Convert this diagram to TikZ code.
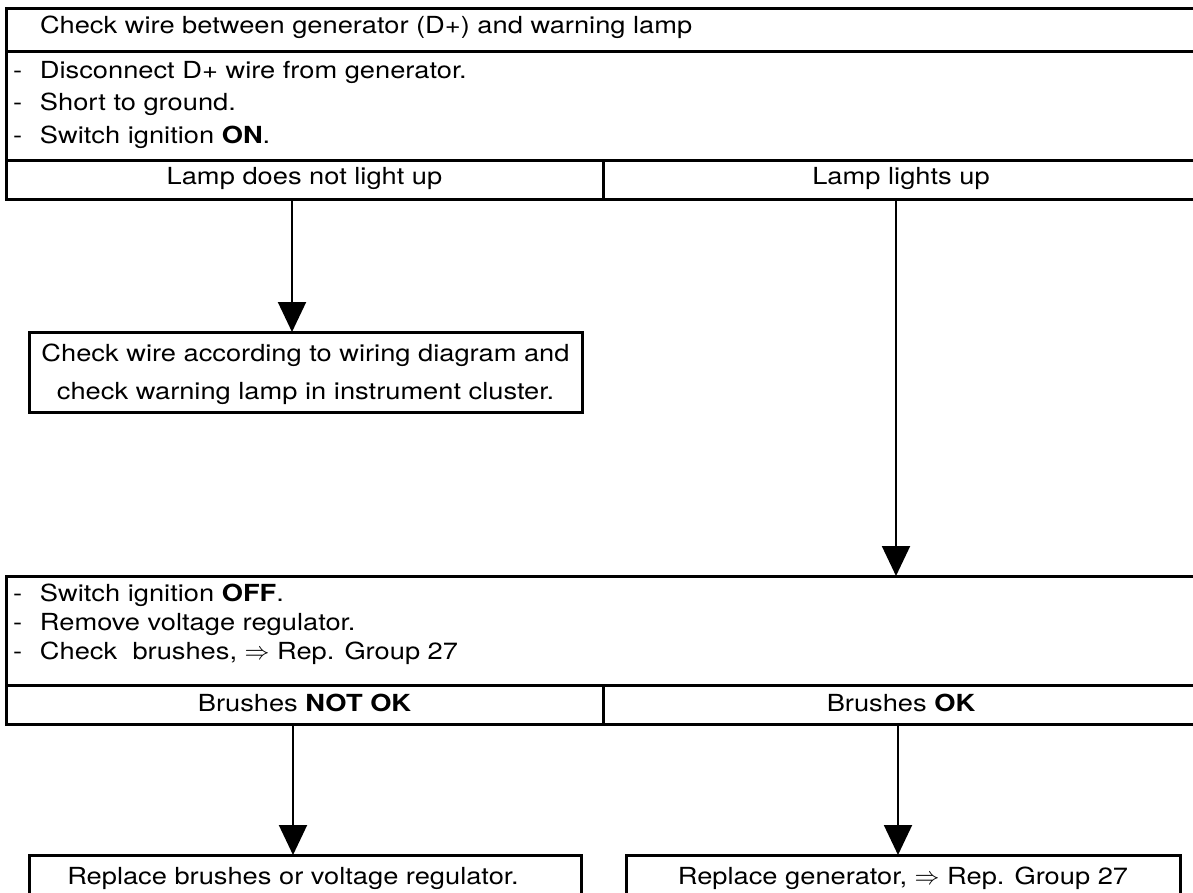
\documentclass[tikz,border=0pt]{standalone}
\usepackage{fontspec}
\setmainfont{TeX Gyre Heros}[FakeStretch=1.16]
\usetikzlibrary{arrows.meta}
\begin{document}
\begin{tikzpicture}[x=1pt,y=-1pt,
  font=\fontsize{23.5pt}{26pt}\selectfont,
  cell/.style={draw,line width=3pt,rectangle,inner sep=0pt,outer sep=0pt,anchor=north west},
  txt/.style={inner sep=0pt,outer sep=0pt},
  arr/.style={line width=2pt,-{Triangle[width=28pt,length=30pt]}}]
\useasboundingbox (0,0) rectangle (1193,892);
\fill[white] (0,0) rectangle (1193,892);
% top table
\node[cell,minimum width=1193pt,minimum height=43pt] (hdr) at (6,8) {};
\node[cell,minimum width=1193pt,minimum height=109pt] (lst1) at (6,51) {};
\node[cell,minimum width=597pt,minimum height=39pt] (lampno) at (6,160) {};
\node[cell,minimum width=596pt,minimum height=39pt] (lampyes) at (603,160) {};
\node[txt,anchor=base west] (hdrt) at (40,33) {Check wire between generator (D+) and warning lamp};
\node[txt,anchor=base west] (l1a) at (13,78) {\makebox[27pt][l]{-}Disconnect D+ wire from generator.};
\node[txt,anchor=base west] (l1b) at (13,110) {\makebox[27pt][l]{-}Short to ground.};
\node[txt,anchor=base west] (l1c) at (13,143) {\makebox[27pt][l]{-}Switch ignition \textbf{ON}.};
\node[txt,anchor=base] (lampnot) at (lampno.center |- 0,184) {Lamp does not light up};
\node[txt,anchor=base] (lampyt) at (lampyes.center |- 0,184) {Lamp lights up};
% left branch box
\node[cell,minimum width=553pt,minimum height=80pt] (chk) at (29,332) {};
\node[txt,anchor=base] (chk1) at (chk.center |- 0,361) {Check wire according to wiring diagram and};
\node[txt,anchor=base] (chk2) at (chk.center |- 0,399) {check warning lamp in instrument cluster.};
\coordinate (a1) at (292,0);
\draw[arr] (a1 |- lampno.south) -- (a1 |- chk.north);
% second table
\node[cell,minimum width=1193pt,minimum height=109pt] (lst2) at (6,576) {};
\node[cell,minimum width=597pt,minimum height=39pt] (brno) at (6,685) {};
\node[cell,minimum width=596pt,minimum height=39pt] (bryes) at (603,685) {};
\node[txt,anchor=base west] (l2a) at (13,601) {\makebox[27pt][l]{-}Switch ignition \textbf{OFF}.};
\node[txt,anchor=base west] (l2b) at (13,630) {\makebox[27pt][l]{-}Remove voltage regulator.};
\node[txt,anchor=base west] (l2c) at (13,659) {\makebox[27pt][l]{-}Check\ \ brushes, $\Rightarrow$ Rep. Group 27};
\node[txt,anchor=base] (brnot) at (brno.center |- 0,711) {Brushes \textbf{NOT OK}};
\node[txt,anchor=base] (brok) at (bryes.center |- 0,711) {Brushes \textbf{OK}};
\coordinate (a2) at (896,0);
\draw[arr] (a2 |- lampyes.south) -- (a2 |- lst2.north);
% bottom boxes
\node[cell,minimum width=552pt,minimum height=60pt] (rb) at (29,855) {};
\node[cell,minimum width=554pt,minimum height=60pt] (rg) at (626,855) {};
\coordinate (a3) at (293,0);
\coordinate (a4) at (898,0);
\node[txt,anchor=base] (rbt) at (a3 |- 0,884) {Replace brushes or voltage regulator.};
\node[txt,anchor=base] (rgt) at (rg.center |- 0,884) {Replace generator, $\Rightarrow$ Rep. Group 27};
\draw[arr] (a3 |- brno.south) -- (a3 |- rb.north);
\draw[arr] (a4 |- bryes.south) -- (a4 |- rg.north);
\end{tikzpicture}
\end{document}
